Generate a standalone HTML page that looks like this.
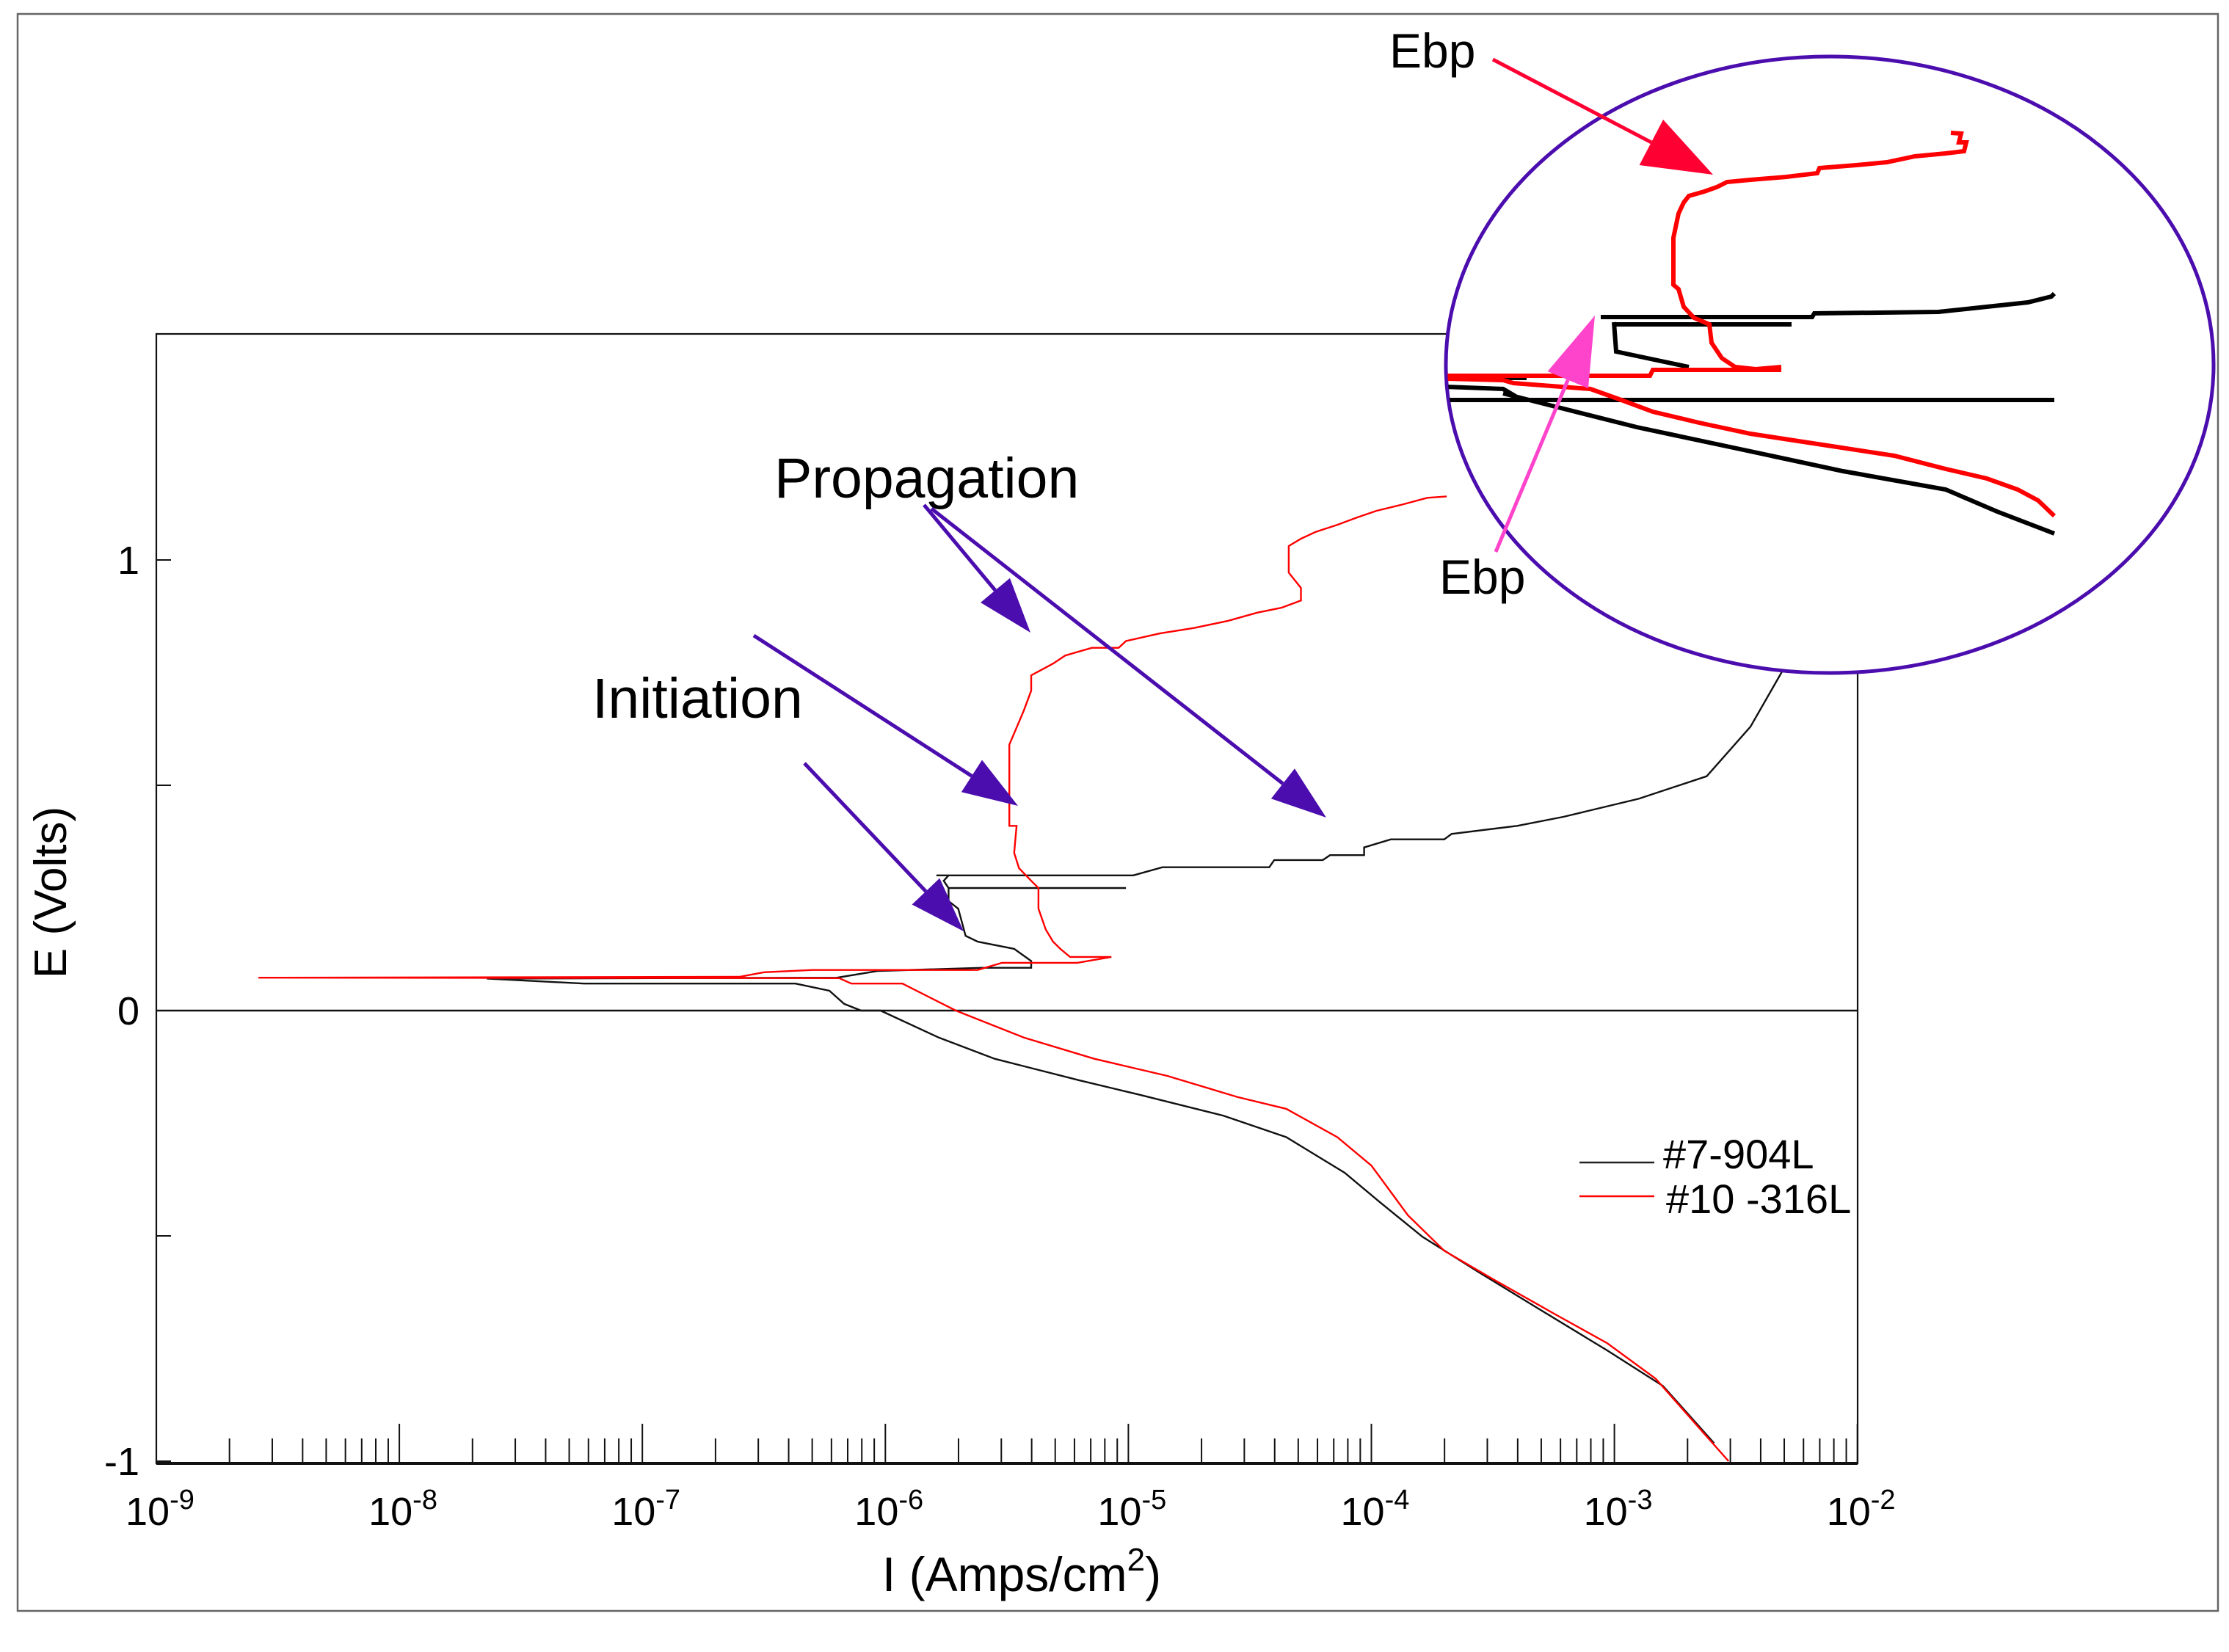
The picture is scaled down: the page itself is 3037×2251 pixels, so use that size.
<!DOCTYPE html>
<html><head><meta charset="utf-8"><title>Polarization curves 904L vs 316L</title>
<style>
html,body{margin:0;padding:0;background:#fff;}
svg{display:block;font-family:"Liberation Sans",Arial,sans-serif;}
</style></head>
<body>
<svg id="chart" xmlns="http://www.w3.org/2000/svg" width="3037" height="2251" viewBox="0 0 3037 2251">
<defs>
<clipPath id="plotclip"><rect x="213" y="455" width="2318" height="1539"/></clipPath>
<clipPath id="insetclip"><ellipse cx="2493" cy="497" rx="521" ry="418"/></clipPath>
</defs>
<rect x="0" y="0" width="3037" height="2251" fill="#fff"/>
<rect x="24" y="19" width="2998" height="2176" fill="none" stroke="#666" stroke-width="2.5"/>
<g id="axes"></g>
<g id="series" clip-path="url(#plotclip)"></g>
<g id="legend">
 <line x1="2152" y1="1584" x2="2254" y2="1584" stroke="#222" stroke-width="2.5"/>
 <text x="2266" y="1592" font-size="56">#7-904L</text>
 <line x1="2152" y1="1630" x2="2254" y2="1630" stroke="#f00" stroke-width="2.5"/>
 <text x="2270" y="1653" font-size="56">#10 -316L</text>
</g>
<g id="inset">
 <ellipse cx="2493" cy="497" rx="523" ry="420" fill="#fff" stroke="#4B0DAE" stroke-width="5"/>
 <g id="insetSeries" clip-path="url(#insetclip)"></g>
</g>
<g id="annotations">
 <text x="1055" y="678" font-size="77">Propagation</text>
 <text x="807" y="978" font-size="77">Initiation</text>
 <text x="1893" y="92" font-size="66">Ebp</text>
 <text x="1961" y="809" font-size="66">Ebp</text>
</g>
</svg>
<script>
// ---- main chart data: log10(I [A/cm2]) and E [V] ----
const xDecades = [-9,-8,-7,-6,-5,-4,-3,-2];
const xTickSup = ["-9","-8","-7","-6","-5","-4","-3","-2"];
const yTickVals = [1,0.5,0,-0.5,-1];
const yTickLabels = ["1","","0","","-1"];

const black904L_logI = [-2.59,-2.80,-3.03,-3.32,-3.56,-3.79,-3.97,-4.11,-4.35,-4.61,-4.96,-5.20,-5.55,-5.78,-6.02,-6.10,-6.17,-6.23,-6.37,-7.24,-7.64,-6.20,-6.03,-5.60,-5.40,-5.40,-5.47,-5.62,-5.67,-5.70,-5.74,-5.74,-5.01,-5.74,-5.76,-5.74,-5.79,-4.98,-4.86,-4.42,-4.40,-4.20,-4.17,-4.03,-4.03,-3.92,-3.70,-3.67,-3.40,-3.21,-2.90,-2.62,-2.44,-2.27,-2.12,-2.05,-2.02];
const black904L_E    = [-0.96,-0.833,-0.754,-0.659,-0.58,-0.502,-0.423,-0.36,-0.281,-0.233,-0.186,-0.155,-0.107,-0.06,0,0,0.015,0.044,0.06,0.06,0.071,0.073,0.088,0.095,0.095,0.11,0.137,0.153,0.166,0.226,0.243,0.272,0.272,0.272,0.288,0.30,0.30,0.30,0.318,0.318,0.334,0.334,0.345,0.345,0.362,0.38,0.38,0.392,0.41,0.43,0.47,0.52,0.63,0.79,0.92,1.05,1.2];

const red316L_logI = [-2.53,-2.65,-2.83,-3.03,-3.24,-3.50,-3.70,-3.85,-4.00,-4.14,-4.35,-4.55,-4.84,-5.14,-5.43,-5.71,-5.93,-6.14,-6.19,-8.58,-6.60,-6.50,-6.30,-5.62,-5.52,-5.21,-5.07,-5.24,-5.28,-5.31,-5.34,-5.37,-5.37,-5.40,-5.45,-5.47,-5.46,-5.49,-5.49,-5.43,-5.40,-5.40,-5.31,-5.26,-5.15,-5.04,-5.01,-4.87,-4.73,-4.59,-4.47,-4.37,-4.29,-4.29,-4.34,-4.34,-4.29,-4.23,-4.14,-4.06,-3.98,-3.88,-3.77,-3.69];
const red316L_E    = [-1.0,-0.927,-0.817,-0.738,-0.675,-0.596,-0.533,-0.454,-0.344,-0.281,-0.218,-0.192,-0.145,-0.107,-0.06,0,0.06,0.06,0.072,0.073,0.075,0.085,0.09,0.09,0.106,0.106,0.119,0.119,0.137,0.153,0.18,0.226,0.272,0.288,0.316,0.35,0.41,0.41,0.59,0.666,0.71,0.744,0.77,0.788,0.805,0.805,0.82,0.837,0.849,0.865,0.883,0.894,0.91,0.938,0.972,1.031,1.047,1.062,1.078,1.094,1.109,1.122,1.138,1.141];

// ---- inset (magnified view) data, inset units ----
const insetRedAnodic_u = [68.8,70.2,69.9,70.9,70.6,68.1,63.9,60.1,55.9,50.9,50.6,46.4,41.5,38.3,36.9,35.2,33.1,32.4,31.7,31.0,31.0,31.7,32.4,33.8,35.9,36.2,37.6,39.4,42.2,45.7];
const insetRedAnodic_w = [54.9,54.8,53.6,53.6,52.4,52.1,51.7,50.9,50.5,50.1,49.4,48.9,48.5,48.2,47.5,46.9,46.3,45.4,43.9,40.6,34.2,33.6,31.2,29.7,28.8,26.3,24.2,23.0,22.7,23.0];
const insetRedDip_u = [45.7,42.2,28.2,27.8,0];
const insetRedDip_w = [22.6,22.6,22.6,21.8,21.8];
const insetRedCath_u = [0,7.8,9.2,19.7,23.9,28.2,34.5,41.5,51.3,61.1,68.1,73.7,77.9,80.7,82.9];
const insetRedCath_w = [21.4,21.2,20.8,20.0,18.5,16.9,15.4,13.9,12.4,10.9,9.1,7.8,6.3,4.8,2.7];
const insetBlackTop_u = [21.1,49.9,50.2,67.1,73.7,79.3,82.5,82.9];
const insetBlackTop_w = [29.8,29.8,30.3,30.5,31.2,31.8,32.6,33.0];
const insetBlackSecond_u = [23.2,47.1];
const insetBlackSecond_w = [28.8,28.8];
const insetBlackDiag_u = [22.9,23.2,26.0,33.1];
const insetBlackDiag_w = [29.1,25.1,24.5,23.0];
const insetBlackShort_u = [7.8,11.0];
const insetBlackShort_w = [21.5,21.5];
const insetBlackLow_u = [0,7.8,9.5];
const insetBlackLow_w = [20.3,20.0,19.0];
const insetBlackFlat_u = [0,82.9];
const insetBlackFlat_w = [18.5,18.5];
const insetBlackCath_u = [7.8,14.1,26.0,40.1,54.1,68.1,75.1,82.9];
const insetBlackCath_w = [19.4,17.8,14.8,11.8,8.8,6.3,3.3,0.3];

// ---- scales ----
const PL=213, PR=2531, PT=455, PB=1994;
function X(l){ return PL + (l + 9) * 331.1; }
function Y(e){ return 1377 - e * 614; }
function IX(u){ return 1970 + u * 10; }
function IY(w){ return 730 - w * 10; }

const NS='http://www.w3.org/2000/svg';
function mk(tag, attrs, parent){
  const el=document.createElementNS(NS,tag);
  for(const k in attrs) el.setAttribute(k, attrs[k]);
  parent.appendChild(el); return el;
}
function pts(xs, ys, fx, fy){ return xs.map((v,i)=>fx(v).toFixed(1)+','+fy(ys[i]).toFixed(1)).join(' '); }

const axes=document.getElementById('axes');
let fr=mk('rect',{x:PL,y:PT,width:PR-PL,height:PB-PT,fill:'none',stroke:'#111','stroke-width':2.2},axes);


let zl=mk('line',{x1:PL,y1:Y(0),x2:PR,y2:Y(0),stroke:'#111','stroke-width':2.5},axes);


let xb=mk('line',{x1:PL,y1:PB,x2:PR,y2:PB,stroke:'#111','stroke-width':4},axes);



xDecades.forEach((d,i)=>{
  const x=X(d);
  const t=mk('line',{x1:x,y1:PB,x2:x,y2:PB-54,stroke:'#111','stroke-width':2},axes);
  
  
  if(i<xDecades.length-1){
    for(let m=2;m<=9;m++){
      const xm=X(d+Math.log10(m));
      const mt=mk('line',{x1:xm,y1:PB,x2:xm,y2:PB-34,stroke:'#111','stroke-width':2},axes);
      
      
    }
  }
  const lab=mk('text',{x:x-42,y:2078,'font-size':54},axes);
  
  
  lab.textContent='10';
  const sup=mk('tspan',{dy:-22,'font-size':38},lab);
  sup.textContent=xTickSup[i];
});
yTickVals.forEach((v,i)=>{
  const y=Y(v);
  const t=mk('line',{x1:PL,y1:y,x2:PL+20,y2:y,stroke:'#111','stroke-width':2},axes);
  
  
  if(yTickLabels[i]){
    const lab=mk('text',{x:190,y:y+19,'font-size':54,'text-anchor':'end'},axes);
    
    
    lab.textContent=yTickLabels[i];
  }
});
const xt=mk('text',{x:1392,y:2168,'font-size':66,'text-anchor':'middle'},axes);


xt.textContent='I (Amps/cm';
const xs=mk('tspan',{dy:-28,'font-size':44},xt); xs.textContent='2';
const xs2=mk('tspan',{dy:28},xt); xs2.textContent=')';
const yt=mk('text',{x:0,y:0,'font-size':62,'text-anchor':'middle',transform:'translate(90,1216) rotate(-90)'},axes);


yt.textContent='E (Volts)';

const sg=document.getElementById('series');
const b=mk('polyline',{points:pts(black904L_logI,black904L_E,X,Y),fill:'none',stroke:'#111','stroke-width':2.4,'stroke-linejoin':'miter'},sg);


const r=mk('polyline',{points:pts(red316L_logI,red316L_E,X,Y),fill:'none',stroke:'#f00','stroke-width':2.4},sg);



const ig=document.getElementById('insetSeries');
const insetLines=[
 [insetBlackFlat_u,insetBlackFlat_w,'#000','inset-904l-flat'],
 [insetBlackCath_u,insetBlackCath_w,'#000','inset-904l-cathodic'],
 [insetBlackLow_u,insetBlackLow_w,'#000','inset-904l-low'],
 [insetBlackShort_u,insetBlackShort_w,'#000','inset-904l-short'],
 [insetBlackTop_u,insetBlackTop_w,'#000','inset-904l-anodic'],
 [insetBlackSecond_u,insetBlackSecond_w,'#000','inset-904l-second'],
 [insetBlackDiag_u,insetBlackDiag_w,'#000','inset-904l-diagonal'],
 [insetRedCath_u,insetRedCath_w,'#f00','inset-316l-cathodic'],
 [insetRedDip_u,insetRedDip_w,'#f00','inset-316l-passive'],
 [insetRedAnodic_u,insetRedAnodic_w,'#f00','inset-316l-anodic']
];
insetLines.forEach(s=>{
  const p=mk('polyline',{points:pts(s[0],s[1],IX,IY),fill:'none',stroke:s[2],'stroke-width':6,'stroke-linejoin':'miter'},ig);
  
  
});

const an=document.getElementById('annotations');
function arrow(x1,y1,x2,y2,color,w,hl,hw,name){
  const g=mk('g',{},an);
  
  
  const dx=x2-x1, dy=y2-y1, L=Math.hypot(dx,dy), ux=dx/L, uy=dy/L;
  const bx=x2-ux*hl, by=y2-uy*hl;
  mk('line',{x1:x1,y1:y1,x2:bx,y2:by,stroke:color,'stroke-width':w},g);
  mk('polygon',{points:`${x2},${y2} ${bx-uy*hw/2},${by+ux*hw/2} ${bx+uy*hw/2},${by-ux*hw/2}`,fill:color},g);
}
arrow(1259,688,1404,862,'#4B0DAE',5,75,52,'propagation-arrow-1');
arrow(1269,693,1807,1114,'#4B0DAE',5,75,52,'propagation-arrow-2');
arrow(1027,866,1387,1098,'#4B0DAE',5,75,52,'initiation-arrow-1');
arrow(1096,1040,1313,1269,'#4B0DAE',5,75,52,'initiation-arrow-2');
arrow(2034,81,2334,238,'#FF0033',5,95,70,'ebp-arrow-red');
arrow(2038,752,2173,430,'#FF44CC',5,95,60,'ebp-arrow-pink');
</script>
</body></html>
